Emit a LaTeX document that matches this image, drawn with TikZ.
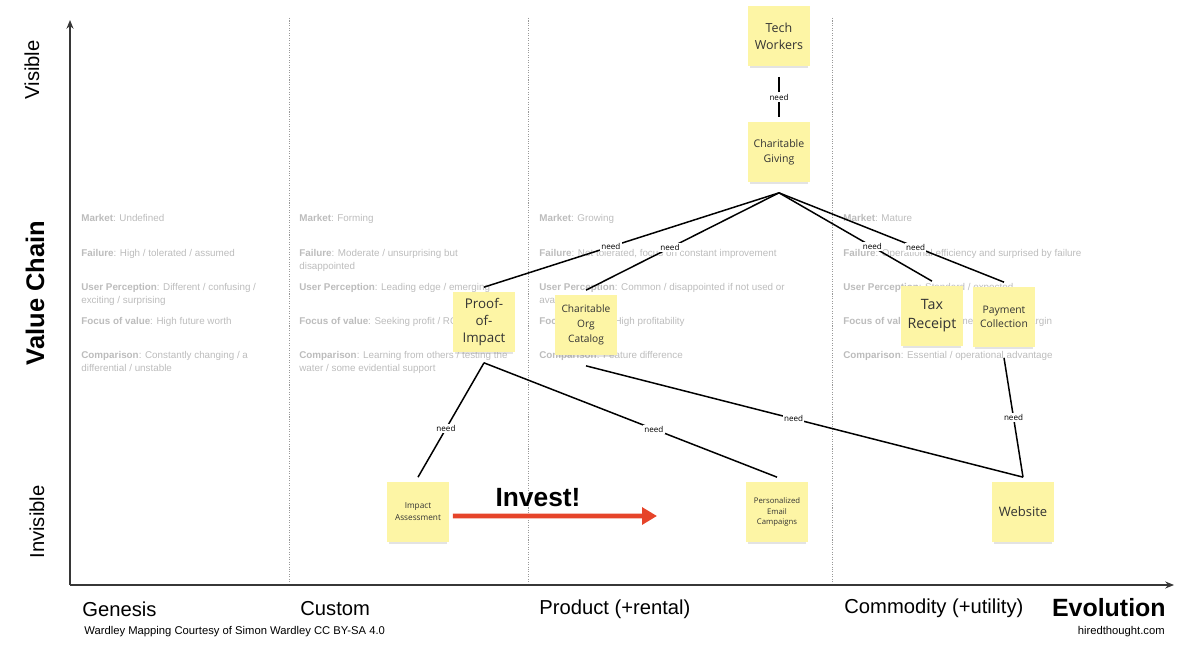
\documentclass[tikz,border=0pt]{standalone}
\usepackage{fontspec}
\setmainfont{Liberation Sans}
\newfontfamily\notefont{Open Sans}
\usetikzlibrary{arrows.meta,shadows,positioning}
\definecolor{notey}{RGB}{253,245,165}
\definecolor{traitgray}{RGB}{188,188,188}
\definecolor{investred}{RGB}{230,68,42}
\definecolor{axisgray}{RGB}{55,55,55}
\tikzset{
  sticky/.style 2 args={fill=notey, minimum width=1.24cm, minimum height=1.22cm,
    inner sep=1pt, align=center, text=black!80, font=\notefont\fontsize{#1}{#2}\selectfont,
    drop shadow={shadow xshift=0pt, shadow yshift=-1.8pt, shadow scale=0.95, opacity=0.22}},
  trait/.style={anchor=base west, align=left, inner sep=0pt, text=traitgray,
    font=\fontsize{5.6}{7.4}\selectfont},
  need/.style={fill=white, inner sep=0.8pt, font=\notefont\fontsize{4.6}{5}\selectfont},
  link/.style={line width=0.85pt},
  stage/.style={anchor=west, inner sep=0pt, font=\fontsize{11.5}{13}\selectfont},
  credit/.style={inner sep=0pt, font=\fontsize{6.4}{7}\selectfont},
  axis/.style={axisgray, line width=0.7pt, -{Stealth[length=5pt,width=4pt]}},
  phase/.style={gray!80, line width=0.5pt, dash pattern=on 0.6pt off 0.8pt}
}
\begin{document}
\begin{tikzpicture}[x=0.02cm, y=-0.02cm]
  \useasboundingbox (0,0) rectangle (1200,645);
  \draw[phase] (289,18) -- (289,585);
  \draw[phase] (528,18) -- (528,585);
  \draw[phase] (832,18) -- (832,585);
  \draw[axis] (70,585) -- (70,20);
  \draw[axis] (70,585) -- (1174,585);
  \node[rotate=90] (visible) at (32,70) {\fontsize{11.5}{13}\selectfont Visible};
  \node[rotate=90] (valuechain) at (35,293) {\fontsize{14.5}{16}\selectfont\bfseries Value Chain};
  \node[rotate=90] (invisible) at (37,522) {\fontsize{11.5}{13}\selectfont Invisible};
  \node[stage] (genesis) at (82,609) {Genesis};
  \node[stage] (custom) at (300,609) {Custom};
  \node[stage] (product) at (539,609) {Product (+rental)};
  \node[stage] (commodity) at (844,608) {Commodity (+utility)};
  \node[anchor=east, inner sep=0pt] (evolution) at (1166,608) {\fontsize{14.2}{16}\selectfont\bfseries Evolution};
  \node[credit, anchor=west] (courtesy) at (84,632) {Wardley Mapping Courtesy of Simon Wardley CC BY-SA 4.0};
  \node[credit, anchor=east] (site) at (1165,632) {hiredthought.com};

  \node[trait] (m1) at (81,221.5) {\textbf{Market}: Undefined};
  \node[trait] (f1) at (81,256.5) {\textbf{Failure}: High / tolerated / assumed};
  \node[trait] (u1) at (81,303.5) {\textbf{User Perception}: Different / confusing /\\exciting / surprising};
  \node[trait] (v1) at (81,324.5) {\textbf{Focus of value}: High future worth};
  \node[trait] (c1) at (81,371.5) {\textbf{Comparison}: Constantly changing / a\\differential / unstable};
  \node[trait] (m2) at (299,221.5) {\textbf{Market}: Forming};
  \node[trait] (f2) at (299,269.5) {\textbf{Failure}: Moderate / unsurprising but\\disappointed};
  \node[trait] (u2) at (299,290.5) {\textbf{User Perception}: Leading edge / emerging};
  \node[trait] (v2) at (299,324.5) {\textbf{Focus of value}: Seeking profit / ROI};
  \node[trait] (c2) at (299,371.5) {\textbf{Comparison}: Learning from others / testing the\\water / some evidential support};
  \node[trait] (m3) at (539,221.5) {\textbf{Market}: Growing};
  \node[trait] (f3) at (539,256.5) {\textbf{Failure}: Not tolerated, focus on constant improvement};
  \node[trait] (u3) at (539,303.5) {\textbf{User Perception}: Common / disappointed if not used or\\available};
  \node[trait] (v3) at (539,324.5) {\textbf{Focus of value}: High profitability};
  \node[trait] (c3) at (539,358.5) {\textbf{Comparison}: Feature difference};
  \node[trait] (m4) at (843,221.5) {\textbf{Market}: Mature};
  \node[trait] (f4) at (843,256.5) {\textbf{Failure}: Operational efficiency and surprised by failure};
  \node[trait] (u4) at (843,290.5) {\textbf{User Perception}: Standard / expected};
  \node[trait] (v4) at (843,324.5) {\textbf{Focus of value}: High volume / reducing margin};
  \node[trait] (c4) at (843,358.5) {\textbf{Comparison}: Essential / operational advantage};

  \node[sticky={7.1}{9.6}] (tw) at (779,36) {Tech\\Workers};
  \node[sticky={6}{8.5}] (cg) at (779,152) {Charitable\\Giving};
  \node[sticky={7.6}{9.5}] (poi) at (484,322) {Proof-\\of-\\Impact};
  \node[sticky={5.8}{8.5}] (catalog) at (586,325) {Charitable\\Org\\Catalog};
  \node[sticky={8.1}{10.8}] (tax) at (932,316) {Tax\\Receipt};
  \node[sticky={5.9}{7.9}] (payment) at (1004,317) {Payment\\Collection};
  \node[sticky={4.7}{6.8}] (ia) at (418,512) {Impact\\Assessment};
  \node[sticky={4.4}{6.2}] (pec) at (777,512) {Personalized\\Email\\Campaigns};
  \node[sticky={7.4}{9}] (web) at (1023,512) {Website};

  \draw[link] ([yshift=-0.2cm]tw.south) -- ([yshift=0.08cm]cg.north) node[need, midway] {need};
  \draw[link] ([yshift=-0.2cm]cg.south) -- ([yshift=0.08cm]poi.north) node[need, pos=0.57] {need};
  \draw[link] ([yshift=-0.2cm]cg.south) -- ([yshift=0.08cm]catalog.north) node[need, pos=0.565] {need};
  \draw[link] ([yshift=-0.2cm]cg.south) -- ([yshift=0.08cm]tax.north) node[need, pos=0.61] {need};
  \draw[link] ([yshift=-0.2cm]cg.south) -- ([yshift=0.08cm]payment.north) node[need, pos=0.607] {need};
  \draw[link] ([yshift=-0.2cm]poi.south) -- ([yshift=0.08cm]ia.north) node[need, pos=0.576] {need};
  \draw[link] ([yshift=-0.2cm]poi.south) -- ([yshift=0.08cm]pec.north) node[need, pos=0.58] {need};
  \draw[link] ([yshift=-0.2cm]catalog.south) -- ([yshift=0.08cm]web.north) node[need, pos=0.475] {need};
  \draw[link] ([yshift=-0.2cm]payment.south) -- ([yshift=0.08cm]web.north) node[need, pos=0.5] {need};

  \coordinate (investend) at (657,516);
  \draw[investred, line width=2.8pt, -{Triangle[length=8.5pt,width=9.5pt]}] ([xshift=2pt,yshift=-0.08cm]ia.east) -- (investend);
  \node (invest) at (538,498) {\fontsize{15}{17}\selectfont\bfseries Invest!};
\end{tikzpicture}
\end{document}
